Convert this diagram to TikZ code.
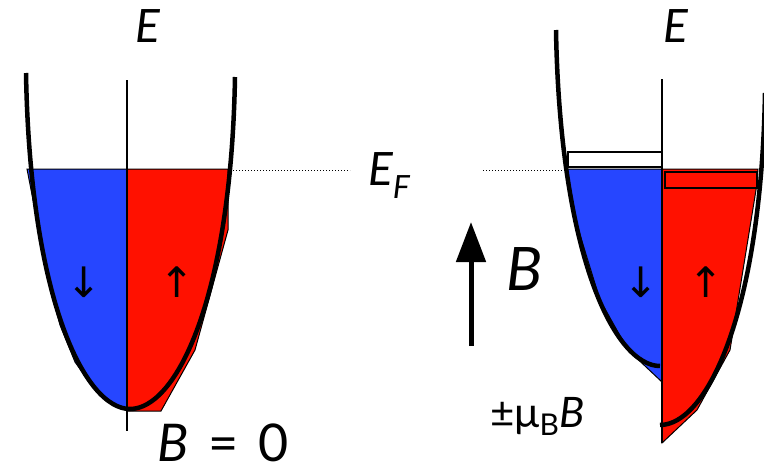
\documentclass[tikz,border=0pt]{standalone}
\usepackage{fontspec}
\setmainfont{Lato}
\newfontfamily\arrowfont{DejaVu Sans}
\usetikzlibrary{arrows.meta,positioning}
\definecolor{SpinDown}{HTML}{2646FF}
\definecolor{SpinUp}{HTML}{FF1100}
\tikzset{band/.style={line width=4.5pt},
  downfill/.style={fill=SpinDown,draw=black,line width=1pt},
  upfill/.style={fill=SpinUp,draw=black,line width=1pt},
  shiftbox/.style={draw=black,line width=2pt},
  kaxis/.style={line width=1.3pt},
  fermi/.style={dotted,line width=1pt},
  field/.style={line width=5pt,-{Triangle[length=40pt,width=29pt]}},
  spin/.style={inner sep=0pt,font=\fontsize{42}{44}\selectfont\arrowfont},
  lbl/.style={inner sep=0pt,font=\fontsize{46}{50}\selectfont\itshape}}

\begin{document}
\begin{tikzpicture}[x=1pt,y=-1pt]
  \useasboundingbox (0,0) rectangle (764,471);
  % B = 0
  \draw[upfill] (127,169) -- (228,169) -- (228,230) -- (195,350) -- (161,411) -- (127,411) -- cycle;
  \draw[downfill] (27,169) -- (127,169) -- (127,410) -- (112,404) -- (95,390) -- (75,362)
    -- (60,325) -- (45,265) -- (35,210) -- cycle;
  \draw[kaxis] (127,80) -- (127,431);
  \draw[band] (26,73) .. controls (30,300) and (85,409) .. (130,409)
    .. controls (176,409) and (231,300) .. (235,77);
  \node[spin] (dleft) at (84,282) {↓};
  \node[spin] (uleft) at (177,282) {↑};
  % finite B
  \draw[downfill] (567,169) -- (662,169) -- (662,382) -- (628,350) -- (600,300) -- (577,225) -- cycle;
  \draw[upfill] (662,169) -- (758,169) -- (756,190) -- (730,350) -- (697,410) -- (662,443) -- cycle;
  \draw[shiftbox,fill=white] (568,152) rectangle (662,167);
  \draw[shiftbox,fill=SpinUp] (665,172) rectangle (757,188);
  \draw[kaxis] (662,79) -- (662,443);
  \begin{scope}[shift={(530,-43)}]
    \draw[band] (26,73) .. controls (30,300) and (85,409) .. (130,409);
  \end{scope}
  \begin{scope}[shift={(530,16)}]
    \draw[band] (130,409) .. controls (176,409) and (231,300) .. (235,77);
  \end{scope}
  \node[spin] (dright) at (641,282) {↓};
  \node[spin] (uright) at (706,282) {↑};
  % Fermi level
  \coordinate (fl1) at (233,170);
  \coordinate (fl2) at (350,170);
  \coordinate (fr1) at (483,170);
  \coordinate (fr2) at (565,170);
  \draw[fermi] (fl1) -- (fl2);
  \draw[fermi] (fr1) -- (fr2);
  % field arrow
  \coordinate (bstart) at (471,346);
  \coordinate (btip) at (471,222);
  \draw[field] (bstart) -- (btip);
  % labels
  \node[lbl,anchor=base] (eleft) at (148,42) {E};
  \node[lbl,anchor=base] (eright) at (676,42) {E};
  \node[lbl,anchor=base west] (efermi) at (368,185) {E\raisebox{-13pt}{\fontsize{32}{34}\selectfont F}};
  \node[lbl,font=\fontsize{60}{64}\selectfont\itshape,anchor=base west] (bfield) at (506,290) {B};
  \node[inner sep=0pt,font=\fontsize{52}{56}\selectfont,anchor=base west] (bzero) at (157,461)
    {\textit{B}\hspace{20pt}=\hspace{20pt}0};
  \node[inner sep=0pt,font=\fontsize{42}{44}\selectfont,anchor=base west] (zeeman) at (490,427)
    {±μ\raisebox{-8pt}{\fontsize{30}{32}\selectfont B}\textit{B}};
\end{tikzpicture}
\end{document}
